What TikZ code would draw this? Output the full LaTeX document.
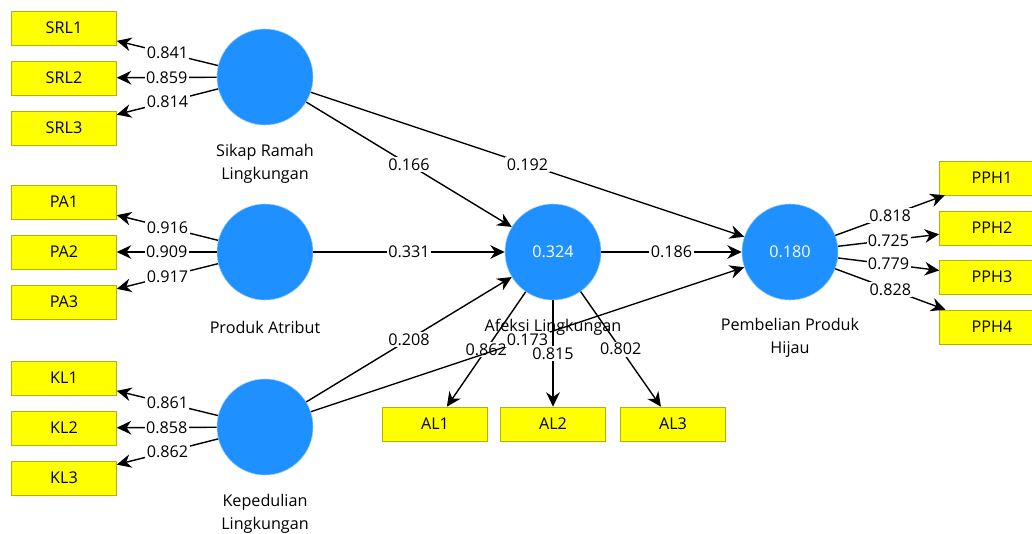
\documentclass[tikz,border=0pt]{standalone}
\usepackage{fontspec}
\setmainfont{Open Sans}
\usetikzlibrary{arrows.meta}
\definecolor{lvblue}{RGB}{30,144,255}
\definecolor{mvyellow}{RGB}{255,255,0}
\tikzset{lv/.style={circle,draw=lvblue!45!white,fill=lvblue,minimum size=2.4cm,inner sep=0pt,text=white},
  mv/.style={draw=mvyellow!70!black,fill=mvyellow,minimum width=2.625cm,minimum height=0.85cm,inner sep=0pt},
  arr/.style={-{Stealth[length=3.6mm,width=3.4mm]},line width=1pt},
  coef/.style={fill=white,inner sep=1pt},
  lvname/.style={align=center,font=\fontsize{11.5}{16.5}\selectfont}}

\begin{document}
\begin{tikzpicture}[x=0.025cm,y=-0.025cm,font=\fontsize{11.5}{14}\selectfont]
\useasboundingbox (0,0) rectangle (1032,533);
\clip (0,0) rectangle (1032,533);
% latent variables
\node[lv] (srl) at (265,77) {};
\node[lv] (pa) at (265,252) {};
\node[lv] (kl) at (265,427) {};
\node[lv] (al) at (553,252) {0.324};
\node[lv] (pph) at (790,252) {0.180};
\node[lvname] (srlname) at (265,164) {Sikap Ramah\\Lingkungan};
\node[lvname] (paname) at (265,327) {Produk Atribut};
\node[lvname] (klname) at (265,514) {Kepedulian\\Lingkungan};
\node[lvname] (alname) at (553,327) {Afeksi Lingkungan};
\node[lvname] (pphname) at (790,338) {Pembelian Produk\\Hijau};
% indicators
\node[mv] (srl1) at (64,28) {SRL1};
\node[mv] (srl2) at (64,78) {SRL2};
\node[mv] (srl3) at (64,128) {SRL3};
\node[mv] (pa1) at (64,202) {PA1};
\node[mv] (pa2) at (64,252) {PA2};
\node[mv] (pa3) at (64,302) {PA3};
\node[mv] (kl1) at (64,378) {KL1};
\node[mv] (kl2) at (64,428) {KL2};
\node[mv] (kl3) at (64,478) {KL3};
\node[mv] (al1) at (435,424) {AL1};
\node[mv] (al2) at (553,424) {AL2};
\node[mv] (al3) at (673,424) {AL3};
\node[mv] (pph1) at (992,178) {PPH1};
\node[mv] (pph2) at (992,228) {PPH2};
\node[mv] (pph3) at (992,277) {PPH3};
\node[mv] (pph4) at (992,327) {PPH4};
% outer loadings
\draw[arr] (srl) -- node[coef] {0.841} (srl1);
\draw[arr] (srl) -- node[coef] {0.859} (srl2);
\draw[arr] (srl) -- node[coef] {0.814} (srl3);
\draw[arr] (pa) -- node[coef] {0.916} (pa1);
\draw[arr] (pa) -- node[coef] {0.909} (pa2);
\draw[arr] (pa) -- node[coef] {0.917} (pa3);
\draw[arr] (kl) -- node[coef] {0.861} (kl1);
\draw[arr] (kl) -- node[coef] {0.858} (kl2);
\draw[arr] (kl) -- node[coef] {0.862} (kl3);
\draw[arr] (al) -- node[coef] {0.862} (al1);
\draw[arr] (al) -- node[coef] {0.815} (al2);
\draw[arr] (al) -- node[coef] {0.802} (al3);
\draw[arr] (pph) -- node[coef] {0.818} (pph1);
\draw[arr] (pph) -- node[coef] {0.725} (pph2);
\draw[arr] (pph) -- node[coef] {0.779} (pph3);
\draw[arr] (pph) -- node[coef] {0.828} (pph4);
% path coefficients
\draw[arr] (srl) -- node[coef] {0.166} (al);
\draw[arr] (srl) -- node[coef] {0.192} (pph);
\draw[arr] (pa) -- node[coef] {0.331} (al);
\draw[arr] (kl) -- node[coef] {0.208} (al);
\draw[arr] (kl) -- node[coef] {0.173} (pph);
\draw[arr] (al) -- node[coef] {0.186} (pph);
\end{tikzpicture}
\end{document}
